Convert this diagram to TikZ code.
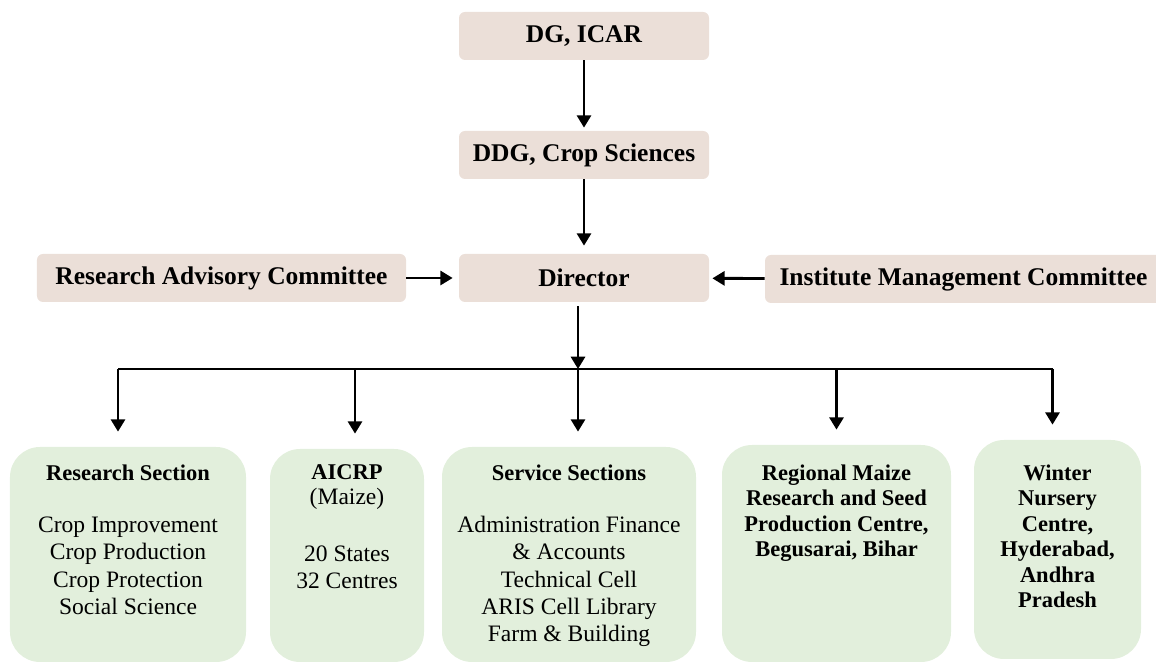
\documentclass[tikz,border=0pt]{standalone}
\usepackage{fontspec}
\setmainfont{Liberation Serif}
\usepackage{xcolor}
\usetikzlibrary{arrows.meta,positioning,calc}

\definecolor{headfill}{HTML}{EBDFD8}
\definecolor{unitfill}{HTML}{E2EFDC}

\tikzset{
    headbox/.style={fill=headfill, rounded corners=0.12cm, minimum height=0.96cm,
        font=\fontsize{14.5}{17}\selectfont\bfseries, inner sep=0},
    unitbox/.style={fill=unitfill, rounded corners=0.6cm, inner sep=0},
    unittext/.style={anchor=north, align=center, inner sep=0,
        font=\fontsize{13.4}{15.6}\selectfont},
    boldtext/.style={anchor=north, align=center, inner sep=0,
        font=\fontsize{12.8}{14.5}\selectfont\bfseries},
    arr/.style={line width=1.6pt, -{Triangle[width=8pt,length=7pt]}},
    bus/.style={line width=1.6pt}
}

\begin{document}
\begin{tikzpicture}
    \useasboundingbox (0,0) rectangle (23.12,13.26);

    \node[headbox, minimum width=5cm] (dg) at (11.68,12.54) {DG, ICAR};
    \node[headbox, minimum width=5cm] (ddg) at (11.68,10.16) {DDG, Crop Sciences};
    \node[headbox, minimum width=5cm] (dir) at (11.68,7.70) {Director};
    \node[headbox, minimum width=7.38cm] (rac) at (4.43,7.70) {Research Advisory Committee};
    \node[headbox, minimum width=7.94cm] (imc) at (19.27,7.68) {Institute Management Committee};

    \draw[arr, shorten >=0.06cm] (dg) -- (ddg);
    \draw[arr, shorten >=0.16cm] (ddg) -- (dir);
    \draw[arr, shorten >=0.12cm] (rac) -- (dir);
    \draw[arr, shorten >=0.06cm] (imc) -- (dir);

    % bottom units
    \node[unitbox, minimum width=4.72cm, minimum height=4.30cm] (rs) at (2.56,2.17) {};
    \node[unitbox, minimum width=3.08cm, minimum height=4.26cm] (ai) at (6.94,2.15) {};
    \node[unitbox, minimum width=5.08cm, minimum height=4.30cm] (ss) at (11.38,2.17) {};
    \node[unitbox, minimum width=4.58cm, minimum height=4.34cm] (rm) at (16.73,2.19) {};
    \node[unitbox, minimum width=3.34cm, minimum height=4.38cm] (wn) at (21.15,2.27) {};

    \node[unittext] (rs-text) at (2.56,3.97) {{\fontsize{12.8}{15.6}\selectfont\bfseries Research Section}\\[13.9pt]
        Crop Improvement\\Crop Production\\Crop Protection\\Social Science};
    \node[unittext] (ai-text) at (6.94,3.97) {{\fontsize{12.8}{15.6}\selectfont\bfseries AICRP}\\[-1.4pt]
        (Maize)\\[16.7pt]20 States\\32 Centres};
    \node[unittext] (ss-text) at (11.38,3.97) {{\fontsize{12.8}{15.6}\selectfont\bfseries Service Sections}\\[13.9pt]
        Administration Finance\\\& Accounts\\Technical Cell\\ARIS Cell Library\\Farm \& Building};
    \node[boldtext] (rm-text) at (16.73,3.97) {Regional Maize\\Research and Seed\\Production Centre,\\Begusarai, Bihar};
    \node[boldtext] (wn-text) at (21.15,3.97) {Winter\\Nursery\\Centre,\\Hyderabad,\\Andhra\\Pradesh};

    \coordinate (bus) at (11.56,5.88);
    \draw[arr, shorten <=0.08cm] ([xshift=-0.12cm]dir.south) -- ([xshift=-0.12cm]dir.south |- bus);
    \draw[bus] ([xshift=-0.2cm]rs.north |- bus) -- ([xshift=-0.1cm]wn.north |- bus);
    \draw[arr, shorten >=0.3cm] ([xshift=-0.2cm]rs.north |- bus) -- ([xshift=-0.2cm]rs.north);
    \draw[arr, shorten >=0.3cm] ([xshift=0.16cm]ai.north |- bus) -- ([xshift=0.16cm]ai.north);
    \draw[arr, shorten >=0.3cm] ([xshift=0.18cm]ss.north |- bus) -- ([xshift=0.18cm]ss.north);
    \draw[arr, shorten >=0.3cm] (rm.north |- bus) -- (rm.north);
    \draw[arr, shorten >=0.3cm] ([xshift=-0.1cm]wn.north |- bus) -- ([xshift=-0.1cm]wn.north);
\end{tikzpicture}
\end{document}
